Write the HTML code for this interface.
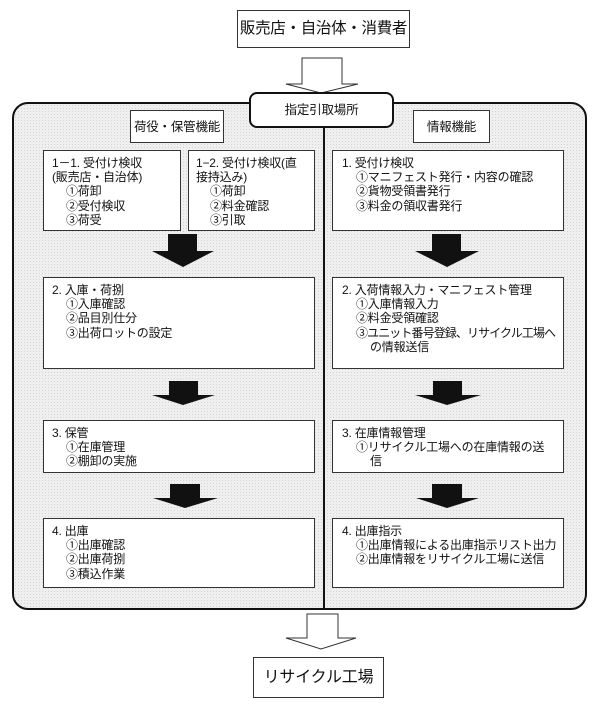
<!DOCTYPE html>
<html><head><meta charset="utf-8"><style>
html,body{margin:0;padding:0;background:#fff;}
body{width:600px;height:709px;position:relative;overflow:hidden;font-family:"Liberation Sans","Noto Sans CJK JP",sans-serif;color:#111;}
.b{position:absolute;background:#fff;border:1px solid #333;box-sizing:border-box;}
.t{position:absolute;font-size:12px;line-height:14.2px;white-space:nowrap;letter-spacing:-0.2px;}
.i{padding-left:14px;}
.i2{padding-left:28px;}
</style></head><body>
<svg width="600" height="709" style="position:absolute;left:0;top:0">
<defs><pattern id="p" width="3" height="3" patternUnits="userSpaceOnUse"><rect width="3" height="3" fill="#efefef"/><rect width="1" height="1" fill="#d4d4d4"/></pattern></defs>
<rect x="13" y="103" width="573" height="506" rx="15" fill="url(#p)" stroke="#111" stroke-width="2"/>
<line x1="324" y1="128" x2="324" y2="609" stroke="#111" stroke-width="2"/>
<polygon points="302,58 342,58 342,84 358,84 321,93 286,84 302,84" fill="#fff" stroke="#333" stroke-width="1"/>
<polygon points="307,614 338,614 338,638 356,638 321,649 286,638 307,638" fill="#fff" stroke="#333" stroke-width="1"/>
<g fill="#111">
<polygon points="168,234 197,234 197,251 214,251 183,267 152,251 168,251"/>
<polygon points="432,234 461,234 461,251 479,251 447,267 415,251 432,251"/>
<polygon points="169,381 198,381 198,395 215,395 183,405 152,395 169,395"/>
<polygon points="433,381 462,381 462,395 481,395 447,405 415,395 433,395"/>
<polygon points="170,484 200,484 200,498 218,498 185,508 153,498 170,498"/>
<polygon points="432,484 462,484 462,498 479,498 447,508 416,498 432,498"/>
</g>
</svg>
<div class="b" style="left:237px;top:10px;width:173px;height:38px;"></div>
<div class="t" style="left:237px;width:173px;text-align:center;top:19px;font-size:15.5px;line-height:20px;letter-spacing:-0.3px;">販売店・自治体・消費者</div>
<div class="b" style="left:249px;top:92px;width:145px;height:36px;border-radius:8px;border:2px solid #111;"></div>
<div class="t" style="left:249px;width:145px;text-align:center;top:103px;font-size:12.5px;">指定引取場所</div>
<div class="b" style="left:130px;top:110px;width:94px;height:33px;"></div>
<div class="t" style="left:130px;width:94px;text-align:center;top:120px;font-size:12.5px;">荷役・保管機能</div>
<div class="b" style="left:413px;top:110px;width:77px;height:33px;"></div>
<div class="t" style="left:413px;width:77px;text-align:center;top:120px;font-size:12.5px;">情報機能</div>

<div class="b" style="left:43px;top:150px;width:138px;height:81px;"></div>
<div class="t" style="left:52px;top:156px;">1－1. 受付け検収<br>(販売店・自治体)<br><span class="i">①荷卸</span><br><span class="i">②受付検収</span><br><span class="i">③荷受</span></div>
<div class="b" style="left:188px;top:150px;width:127px;height:81px;"></div>
<div class="t" style="left:196px;top:156px;">1−2. 受付け検収(直<br>接持込み)<br><span class="i">①荷卸</span><br><span class="i">②料金確認</span><br><span class="i">③引取</span></div>
<div class="b" style="left:332px;top:150px;width:232px;height:81px;"></div>
<div class="t" style="left:342px;top:156px;">1. 受付け検収<br><span class="i">①マニフェスト発行・内容の確認</span><br><span class="i">②貨物受領書発行</span><br><span class="i">③料金の領収書発行</span></div>

<div class="b" style="left:43px;top:277px;width:272px;height:92px;"></div>
<div class="t" style="left:52px;top:283px;">2. 入庫・荷捌<br><span class="i">①入庫確認</span><br><span class="i">②品目別仕分</span><br><span class="i">③出荷ロットの設定</span></div>
<div class="b" style="left:332px;top:277px;width:232px;height:92px;"></div>
<div class="t" style="left:342px;top:283px;">2. 入荷情報入力・マニフェスト管理<br><span class="i">①入庫情報入力</span><br><span class="i">②料金受領確認</span><br><span class="i" style="letter-spacing:-0.9px;">③ユニット番号登録、リサイクル工場へ</span><br><span class="i2">の情報送信</span></div>

<div class="b" style="left:43px;top:420px;width:272px;height:53px;"></div>
<div class="t" style="left:52px;top:426px;">3. 保管<br><span class="i">①在庫管理</span><br><span class="i">②棚卸の実施</span></div>
<div class="b" style="left:332px;top:420px;width:232px;height:53px;"></div>
<div class="t" style="left:342px;top:426px;">3. 在庫情報管理<br><span class="i">①リサイクル工場への在庫情報の送</span><br><span class="i2">信</span></div>

<div class="b" style="left:43px;top:518px;width:272px;height:70px;"></div>
<div class="t" style="left:52px;top:524px;">4. 出庫<br><span class="i">①出庫確認</span><br><span class="i">②出庫荷捌</span><br><span class="i">③積込作業</span></div>
<div class="b" style="left:332px;top:518px;width:232px;height:70px;"></div>
<div class="t" style="left:342px;top:524px;">4. 出庫指示<br><span class="i">①出庫情報による出庫指示リスト出力</span><br><span class="i">②出庫情報をリサイクル工場に送信</span></div>

<div class="b" style="left:253px;top:657px;width:131px;height:41px;"></div>
<div class="t" style="left:253px;width:131px;text-align:center;top:668px;font-size:16px;line-height:20px;">リサイクル工場</div>
</body></html>
